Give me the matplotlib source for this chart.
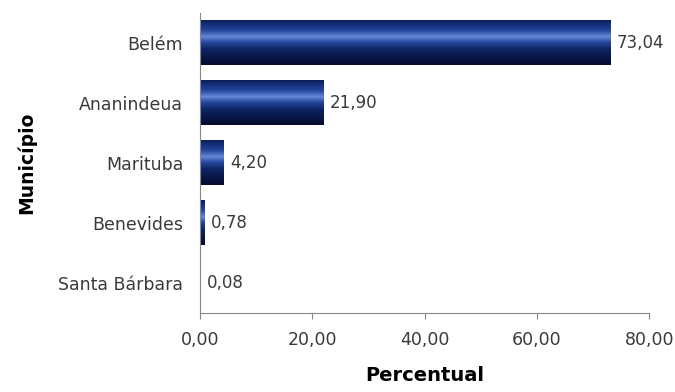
import matplotlib
matplotlib.use("Agg")
import matplotlib.pyplot as plt
import numpy as np
from matplotlib.colors import LinearSegmentedColormap

# Dados
municipios = ["Belém", "Ananindeua", "Marituba", "Benevides", "Santa Bárbara"]
percentual = [73.04, 21.90, 4.20, 0.78, 0.08]
xticks = [0, 20, 40, 60, 80]

plt.rcParams["font.family"] = ["DejaVu Sans"]

fig = plt.figure(figsize=(6.75, 3.92), dpi=100)
ax = fig.add_axes([0.296, 0.2015, 0.666, 0.7655])

ypos = np.arange(len(municipios))
bars = ax.barh(ypos, percentual, height=0.75, color="#0d2460", edgecolor="none")

# gradiente tipo cilindro em cada barra
cmap = LinearSegmentedColormap.from_list("cil", [
    (0.0, "#0a1a50"), (0.1, "#132d78"), (0.24, "#23449a"), (0.38, "#6688d6"),
    (0.5, "#27489f"), (0.66, "#0e2464"), (1.0, "#050c2c")])
grad = np.linspace(0, 1, 64).reshape(-1, 1)
for b in bars:
    x0, y0 = b.get_x(), b.get_y()
    w, h = b.get_width(), b.get_height()
    im = ax.imshow(grad, cmap=cmap, aspect="auto",
                   extent=[x0, x0 + w, y0 + h, y0], zorder=2)
    im.set_clip_path(b)

for y, v in zip(ypos, percentual):
    ax.text(v + 1.2, y, f"{v:.2f}".replace(".", ","), va="center", ha="left",
            fontsize=12, color="#3a3a3a")

ax.set_ylim(len(municipios) - 0.5, -0.5)
ax.set_xlim(0, 80)
ax.set_yticks(ypos)
ax.set_yticklabels(municipios, fontsize=12.5, color="#3a3a3a")
ax.set_xticks(xticks)
ax.set_xticklabels([f"{t:.2f}".replace(".", ",") for t in xticks],
                   fontsize=12.5, color="#3a3a3a")
ax.tick_params(axis="y", length=0, pad=12)
ax.tick_params(axis="x", length=4, color="#888888", pad=9)

for s in ["top", "right"]:
    ax.spines[s].set_visible(False)
for s in ["left", "bottom"]:
    ax.spines[s].set_color("#888888")

ax.set_xlabel("Percentual", fontsize=14, fontweight="bold", labelpad=12)
ax.set_ylabel("Município", fontsize=13.5, fontweight="bold", labelpad=16)

fig.savefig("out.png", dpi=100, facecolor="white")
